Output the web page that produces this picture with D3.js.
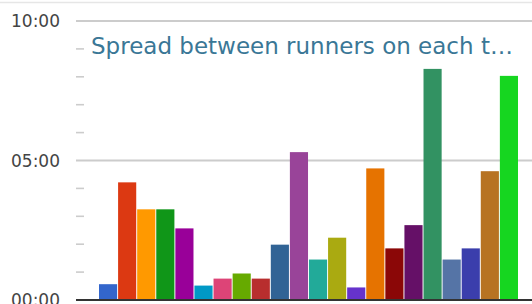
<!DOCTYPE html>
<html>
<head>
<meta charset="utf-8">
<script src="https://cdn.jsdelivr.net/npm/d3@7"></script>
<style>
  html, body { margin: 0; padding: 0; background: #fff; overflow: hidden; }
  svg { display: block; }
</style>
</head>
<body>
<svg id="chart" width="532" height="304"></svg>
<script>
// ---- data ----
const categories = ["T1","T2","T3","T4","T5","T6","T7","T8","T9","T10","T11","T12","T13","T14","T15","T16","T17","T18","T19","T20","T21","T22"];
// spread in seconds
const spreadSeconds = [34, 253, 195, 195, 154, 31, 46, 57, 46, 119, 318, 87, 134, 27, 283, 111, 161, 497, 87, 111, 277, 482];
const colors = ["#3366cc","#dc3912","#ff9900","#109618","#990099","#0099c6","#dd4477","#66aa00","#b82e2e","#316395","#994499","#22aa99","#aaaa11","#6633cc","#e67300","#8b0707","#651067","#329262","#5574a6","#3b3eac","#b77322","#16d620"];
const majorTicks = [0, 300, 600];
const minorTicks = [60, 120, 180, 240, 360, 420, 480, 540];
const titleText = "Spread between runners on each t\u2026";

// ---- chart ----
const svg = d3.select("#chart");
const W = 532, H = 304;
const plotLeft = 76, plotRight = 532;

const x = d3.scaleBand().domain(categories).range([99, 518]).paddingInner(0.05).paddingOuter(0);
const y = d3.scaleLinear().domain([0, 600]).range([300, 21]);

const fmt = s => {
  const m = Math.floor(s / 60), sec = s % 60;
  return String(m).padStart(2, "0") + ":" + String(sec).padStart(2, "0");
};

// top border
svg.append("line").attr("x1", 0).attr("x2", W).attr("y1", 2.5).attr("y2", 2.5)
  .attr("stroke", "#e6e6e6").attr("stroke-width", 1.5);

// minor ticks
svg.append("g").selectAll("line").data(minorTicks).join("line")
  .attr("x1", plotLeft).attr("x2", plotLeft + 8)
  .attr("y1", d => y(d)).attr("y2", d => y(d))
  .attr("stroke", "#cccccc").attr("stroke-width", 1.6);

// gridlines (major)
svg.append("g").selectAll("line").data(majorTicks.filter(d => d > 0)).join("line")
  .attr("x1", plotLeft).attr("x2", plotRight)
  .attr("y1", d => y(d)).attr("y2", d => y(d))
  .attr("stroke", "#cccccc").attr("stroke-width", 2);

// y labels
svg.append("g").selectAll("text").data(majorTicks).join("text")
  .attr("x", 60).attr("y", d => y(d)).attr("dy", "0.36em")
  .attr("text-anchor", "end")
  .attr("font-family", "DejaVu Sans, Verdana, sans-serif")
  .attr("font-size", 17).attr("fill", "#444444")
  .text(d => fmt(d));

// bars
svg.append("g").selectAll("rect").data(categories).join("rect")
  .attr("x", d => x(d))
  .attr("width", x.bandwidth())
  .attr("y", (d, i) => y(spreadSeconds[i]))
  .attr("height", (d, i) => y(0) - 1 - y(spreadSeconds[i]))
  .attr("fill", (d, i) => colors[i]);

// baseline
svg.append("line").attr("x1", plotLeft).attr("x2", plotRight)
  .attr("y1", y(0)).attr("y2", y(0))
  .attr("stroke", "#333333").attr("stroke-width", 2);

// title
svg.append("text").attr("x", 91).attr("y", 54)
  .attr("font-family", "DejaVu Sans, Verdana, sans-serif")
  .attr("font-size", 23).attr("fill", "#3a7796")
  .text(titleText);
</script>
</body>
</html>
